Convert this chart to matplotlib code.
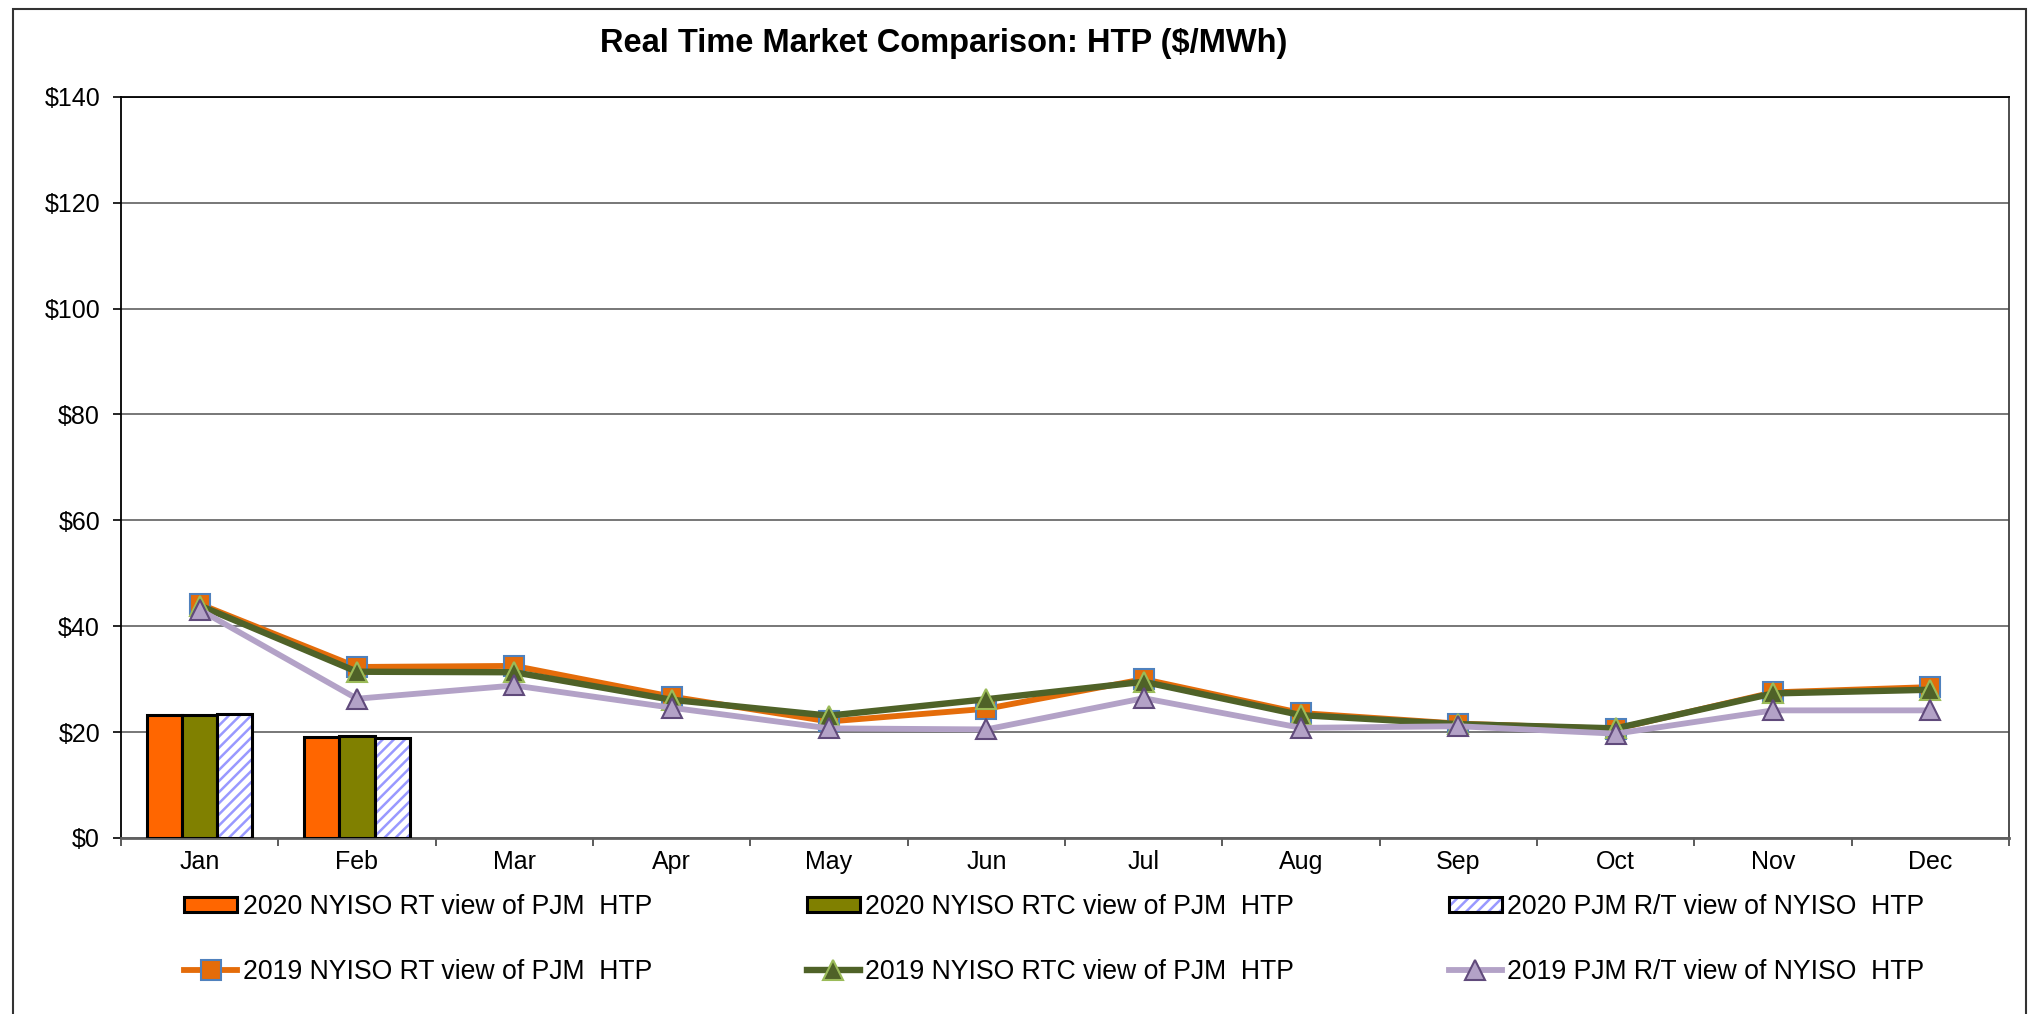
import matplotlib
matplotlib.use("Agg")
import matplotlib.pyplot as plt
from matplotlib.patches import Rectangle
from matplotlib.legend_handler import HandlerTuple
import numpy as np

months = ['Jan', 'Feb', 'Mar', 'Apr', 'May', 'Jun', 'Jul', 'Aug', 'Sep', 'Oct', 'Nov', 'Dec']

# 2020 bars (only Jan, Feb so far)
rt_2020 = [23.3, 19.1]
rtc_2020 = [23.3, 19.2]
pjm_2020 = [23.35, 18.9]

# 2019 lines
rt_2019 = [44.2, 32.3, 32.5, 26.7, 22.0, 24.4, 30.0, 23.6, 21.6, 20.6, 27.5, 28.5]
rtc_2019 = [43.9, 31.4, 31.3, 26.1, 23.1, 26.2, 29.5, 23.2, 21.5, 20.7, 27.3, 28.0]
pjm_2019 = [43.1, 26.3, 28.8, 24.6, 20.7, 20.5, 26.4, 20.8, 21.1, 19.7, 24.1, 24.1]

labels = ['2020 NYISO RT view of PJM  HTP',
          '2019 NYISO RT view of PJM  HTP',
          '2020 NYISO RTC view of PJM  HTP',
          '2019 NYISO RTC view of PJM  HTP',
          '2020 PJM R/T view of NYISO  HTP',
          '2019 PJM R/T view of NYISO  HTP']

plt.rcParams['font.family'] = ['Liberation Sans', 'DejaVu Sans']
plt.rcParams['hatch.linewidth'] = 1.8

fig = plt.figure(figsize=(20.36, 10.14), dpi=100)
ax = fig.add_axes([0.0594, 0.1736, 0.9274, 0.731])

x = np.arange(len(months))
xb = np.arange(len(rt_2020))
w = 0.224

b1 = ax.bar(xb - w, rt_2020, w, color='#FF6600', edgecolor='black', linewidth=2.2, zorder=3)
b2 = ax.bar(xb, rtc_2020, w, color='#808000', edgecolor='black', linewidth=2.2, zorder=3)
b3h = ax.bar(xb + w, pjm_2020, w, color='white', edgecolor='#9999FF', hatch='///', linewidth=0, zorder=3)
b3e = ax.bar(xb + w, pjm_2020, w, color='none', edgecolor='black', linewidth=2.2, zorder=3.1)

l1, = ax.plot(x, rt_2019, color='#E46C0A', lw=4.2, marker='s', markersize=14,
              markerfacecolor='#E46C0A', markeredgecolor='#4F81BD', markeredgewidth=1.5, zorder=4)
l2, = ax.plot(x, rtc_2019, color='#4F6228', lw=4.6, marker='^', markersize=15,
              markerfacecolor='#4F6228', markeredgecolor='#9BBB59', markeredgewidth=1.5, zorder=5)
l3, = ax.plot(x, pjm_2019, color='#B3A2C7', lw=4.2, marker='^', markersize=15,
              markerfacecolor='#B3A2C7', markeredgecolor='#604A7B', markeredgewidth=1.5, zorder=6)

ax.set_xlim(-0.5, 11.5)
ax.set_ylim(0, 140)
ax.set_yticks(range(0, 141, 20))
ax.set_yticklabels(['$%d' % v for v in range(0, 141, 20)], fontsize=18)
ax.set_xticks(x)
ax.set_xticklabels(months, fontsize=18)
ax.set_xticks(np.arange(-0.5, 12, 1), minor=True)
ax.tick_params(axis='x', which='major', length=0, pad=9)
ax.tick_params(axis='x', which='minor', length=6, width=1.2, color='#404040')
ax.tick_params(axis='y', length=6, width=1.2, pad=9)
ax.yaxis.grid(True, color='#606060', lw=1.2, zorder=0)
ax.set_axisbelow(True)
for s in ax.spines.values():
    s.set_linewidth(1.3)
    s.set_color('black')
ax.spines['bottom'].set_color('#606060')
ax.spines['bottom'].set_linewidth(2)
ax.spines['right'].set_color('#404040')

fig.text(944 / 2036, 0.9575, 'Real Time Market Comparison: HTP ($/MWh)',
         ha='center', va='center', fontsize=23.5, fontweight='bold')

# outer chart border
fig.patches.append(Rectangle((0.0062, -0.05), 0.9889, 1.0408, transform=fig.transFigure,
                             fill=False, edgecolor='#333333', lw=1.5))

handles = [b1[0], l1, b2[0], l2, (b3h[0], b3e[0]), l3]
fig.legend(handles, labels, ncol=3, loc='upper left', bbox_to_anchor=(184 / 2036, 0.118),
           frameon=False, fontsize=19.2, columnspacing=5.8, handlelength=2.0,
           handletextpad=0.2, handleheight=0.5, labelspacing=1.45, borderpad=0,
           borderaxespad=0, numpoints=1,
           handler_map={tuple: HandlerTuple(ndivide=1, pad=0)})

fig.savefig('out.png', dpi=100)
